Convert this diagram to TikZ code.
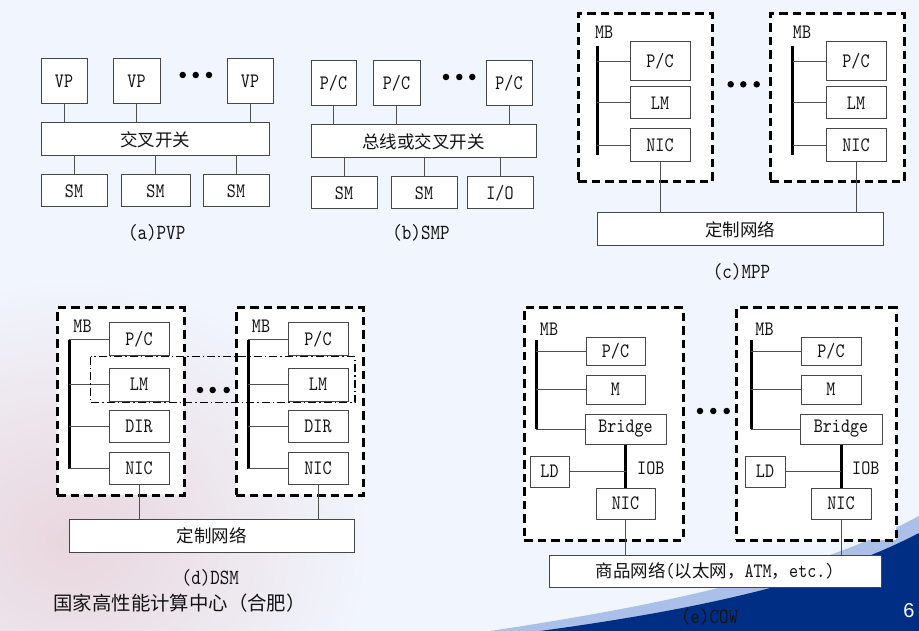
\documentclass[tikz,border=0pt]{standalone}
\usepackage{fontspec}
\newfontfamily\cjk{Noto Sans CJK SC}
\newfontfamily\lmono[FakeStretch=0.84]{lmmono10-regular.otf}
\newfontfamily\lsans{Liberation Sans}
\definecolor{bgc}{RGB}{241,245,253}
\definecolor{pinkc}{RGB}{233,214,221}
\definecolor{boxc}{RGB}{70,70,70}
\definecolor{wirec}{RGB}{80,80,80}
\definecolor{txt}{RGB}{20,20,20}
\definecolor{swd}{RGB}{0,46,132}
\definecolor{swl}{RGB}{170,192,232}
\newcommand\bfnt{\lmono\fontsize{20.5pt}{20.5pt}\selectfont}
\newcommand\capfnt{\lmono\fontsize{21.6pt}{21.6pt}\selectfont}
\newcommand\cjkf{\cjk\fontsize{17.5pt}{17.5pt}\selectfont}
\newcommand\bx[6]{\node[bx, minimum width={(#4-#2)*1pt}, minimum height={(#5-#3)*1pt}] (#1) at ({(#2+#4)/2},{(#3+#5)/2}) {#6};}
\newcommand\dbx[5]{\node[dbx, minimum width={(#4-#2)*1pt}, minimum height={(#5-#3)*1pt}] (#1) at ({(#2+#4)/2},{(#3+#5)/2}) {};}
\begin{document}
\begin{tikzpicture}[x=1pt,y=-1pt,
  bx/.style={draw=boxc, fill=white, line width=1pt, inner sep=0pt, font=\bfnt, text=txt},
  dbx/.style={draw=black, fill=white, line width=3pt, dash pattern=on 8.5pt off 5pt, inner sep=0pt},
  wire/.style={draw=wirec, line width=1pt},
  bus/.style={draw=black, line width=3pt},
  lbl/.style={font=\bfnt, text=txt, inner sep=0pt},
  captxt/.style={font=\capfnt, text=txt, inner sep=0pt},
  dotn/.style={fill=black, circle, inner sep=0pt, minimum size=6.5pt},
  dashdot/.style={draw=black, line width=1.3pt, dash pattern=on 8pt off 3pt on 1.5pt off 3pt}]
\useasboundingbox (0,0) rectangle (919,631);
\fill[bgc] (0,0) rectangle (919,631);
% background decorations
\begin{scope}
\clip (0,0) rectangle (919,631);
\shade[inner color=pinkc, outer color=bgc] (70,540) ellipse [x radius=300pt, y radius=260pt];
\end{scope}
\fill[swl] (490,631) .. controls (670,604) and (815,572) .. (919,516) -- (919,631) -- cycle;
\fill[swd] (540,631) .. controls (680,612) and (820,585) .. (919,533) -- (919,631) -- cycle;

% (a) PVP
\bx{vpa}{41}{59}{87}{104}{VP}
\bx{vpb}{113}{59}{160}{104}{VP}
\bx{vpc}{227}{59}{273}{104}{VP}
\bx{xbar}{41}{123}{269}{156}{\cjkf 交叉开关}
\bx{sma}{41}{175}{107}{207}{SM}
\bx{smb}{121}{175}{190}{207}{SM}
\bx{smc}{203}{175}{269}{207}{SM}
\foreach \n in {vpa,vpb,vpc} \draw[wire] (\n.south) -- (\n.south |- xbar.north);
\foreach \n in {sma,smb,smc} \draw[wire] (\n.north) -- (\n.north |- xbar.south);
\node[dotn] (da1) at (182.7,75) {};
\node[dotn] (da2) at (195.7,75) {};
\node[dotn] (da3) at (209,75) {};
\node[captxt] (capa) at (156.7,232.7) {(a)PVP};

% (b) SMP
\bx{pca}{311}{61}{356}{106}{P/C}
\bx{pcb}{373}{61}{420}{106}{P/C}
\bx{pcc}{486}{61}{532}{106}{P/C}
\bx{busb}{311}{125}{536}{158}{\cjkf 总线或交叉开关}
\bx{smd}{311}{177}{377}{209}{SM}
\bx{sme}{391}{177}{457}{209}{SM}
\bx{io}{467}{177}{533}{209}{I/O}
\foreach \n in {pca,pcb,pcc} \draw[wire] (\n.south) -- (\n.south |- busb.north);
\foreach \n in {smd,sme,io} \draw[wire] (\n.north) -- (\n.north |- busb.south);
\node[dotn] (db1) at (446,77) {};
\node[dotn] (db2) at (459.3,77) {};
\node[dotn] (db3) at (472.3,77) {};
\node[captxt] (capb) at (421,232.7) {(b)SMP};

% (c) MPP
\dbx{mbc1}{578}{14}{712}{182}
\dbx{mbc2}{770}{14}{904}{182}
\bx{pcc1}{630}{42}{690}{81}{P/C}
\bx{lmc1}{630}{87}{690}{119}{LM}
\bx{nicc1}{630}{129}{690}{162}{NIC}
\bx{pcc2}{826}{42}{886}{81}{P/C}
\bx{lmc2}{826}{87}{886}{119}{LM}
\bx{nicc2}{826}{129}{886}{162}{NIC}
\coordinate (busc1t) at (597.3,45.7);
\coordinate (busc1b) at (597.3,155);
\coordinate (busc2t) at (792.7,45.7);
\coordinate (busc2b) at (792.7,155);
\draw[bus] (busc1t) -- (busc1b);
\draw[bus] (busc2t) -- (busc2b);
\foreach \n in {pcc1,lmc1,nicc1} \draw[wire] (\n.west) -- (\n.west -| busc1t);
\foreach \n in {pcc2,lmc2,nicc2} \draw[wire] (\n.west) -- (\n.west -| busc2t);
\node[lbl] (mbc1l) at (604.2,32.3) {MB};
\node[lbl] (mbc2l) at (802,32.3) {MB};
\bx{netc}{597}{213}{883}{246}{\cjkf 定制网络}
\draw[wire] (nicc1.south) -- (nicc1.south |- netc.north);
\draw[wire] (nicc2.south) -- (nicc2.south |- netc.north);
\node[dotn] (dc1) at (730.7,84.3) {};
\node[dotn] (dc2) at (743.3,84.3) {};
\node[dotn] (dc3) at (756.7,84.3) {};
\node[captxt] (capc) at (741.5,271.7) {(c)MPP};

% (d) DSM
\dbx{mbd1}{57}{308}{184}{495}
\dbx{mbd2}{236}{308}{363}{495}
\bx{pcd1}{109}{323}{169}{355}{P/C}
\bx{lmd1}{109}{368}{169}{401}{LM}
\bx{dird1}{109}{410}{169}{442}{DIR}
\bx{nicd1}{109}{452}{169}{484}{NIC}
\bx{pcd2}{288}{323}{348}{355}{P/C}
\bx{lmd2}{288}{368}{348}{401}{LM}
\bx{dird2}{288}{410}{348}{442}{DIR}
\bx{nicd2}{288}{452}{348}{484}{NIC}
\coordinate (busd1t) at (69.3,339.5);
\coordinate (busd1b) at (69.3,468.5);
\coordinate (busd2t) at (248.3,339.5);
\coordinate (busd2b) at (248.3,468.5);
\draw[bus] (busd1t) -- (busd1b);
\draw[bus] (busd2t) -- (busd2b);
\foreach \n in {pcd1,lmd1,dird1,nicd1} \draw[wire] (\n.west) -- (\n.west -| busd1t);
\foreach \n in {pcd2,lmd2,dird2,nicd2} \draw[wire] (\n.west) -- (\n.west -| busd2t);
\node[lbl] (mbd1l) at (82.5,326.7) {MB};
\node[lbl] (mbd2l) at (261,326.7) {MB};
\bx{netd}{69}{519}{354}{552}{\cjkf 定制网络}
\draw[wire] (nicd1.south) -- (nicd1.south |- netd.north);
\draw[wire] (nicd2.south) -- (nicd2.south |- netd.north);
\draw[dashdot] (90.7,356.7) rectangle (355,402.7);
\node[dotn] (dd1) at (200,390) {};
\node[dotn] (dd2) at (212.7,390) {};
\node[dotn] (dd3) at (226.7,390) {};
\node[captxt] (capd) at (210.3,577.7) {(d)DSM};
\node[inner sep=0pt, anchor=west, text=txt, font=\cjk\fontsize{19.4pt}{19.4pt}\selectfont] (footer) at (53.3,603.3) {国家高性能计算中心（合肥）};

% (e) COW
\dbx{mbe1}{524}{308}{683}{540}
\dbx{mbe2}{736}{308}{896}{540}
\bx{pce1}{586}{337}{645}{365}{P/C}
\bx{me1}{586}{375}{645}{404}{M}
\bx{bre1}{585}{414}{666}{444}{Bridge}
\bx{lde1}{530}{456}{569}{487}{LD}
\bx{nice1}{596}{488}{655}{519}{NIC}
\bx{pce2}{801}{337}{861}{365}{P/C}
\bx{me2}{801}{375}{861}{404}{M}
\bx{bre2}{800}{414}{882}{444}{Bridge}
\bx{lde2}{745}{456}{785}{487}{LD}
\bx{nice2}{811}{488}{871}{519}{NIC}
\coordinate (buse1t) at (536,340);
\coordinate (buse1b) at (536,429);
\coordinate (buse2t) at (751,340);
\coordinate (buse2b) at (751,429);
\draw[bus] (buse1t) -- (buse1b);
\draw[bus] (buse2t) -- (buse2b);
\foreach \n in {pce1,me1,bre1} \draw[wire] (\n.west) -- (\n.west -| buse1t);
\foreach \n in {pce2,me2,bre2} \draw[wire] (\n.west) -- (\n.west -| buse2t);
\draw[bus] (bre1.south) -- (bre1.south |- nice1.north);
\draw[bus] (bre2.south) -- (bre2.south |- nice2.north);
\draw[wire] (lde1.east) -- (lde1.east -| bre1.south);
\draw[wire] (lde2.east) -- (lde2.east -| bre2.south);
\node[lbl] (mbe1l) at (549,329.3) {MB};
\node[lbl] (mbe2l) at (764.5,329.3) {MB};
\node[lbl] (iobe1) at (650.8,468.3) {IOB};
\node[lbl] (iobe2) at (865.8,468.3) {IOB};
\bx{nete}{549}{555}{881}{587}{{\cjkf 商品网络}({\cjkf 以太网，}ATM{\cjkf ，}etc.)}
\draw[wire] (nice1.south) -- (nice1.south |- nete.north);
\draw[wire] (nice2.south) -- (nice2.south |- nete.north);
\node[dotn] (de1) at (700,411) {};
\node[dotn] (de2) at (713.3,411) {};
\node[dotn] (de3) at (726.7,411) {};
\node[captxt] (cape) at (709.5,616.7) {(e)COW};
\node[inner sep=0pt, text=white, font=\lsans\fontsize{20pt}{20pt}\selectfont] (pnum) at (909,611) {6};
\end{tikzpicture}
\end{document}
